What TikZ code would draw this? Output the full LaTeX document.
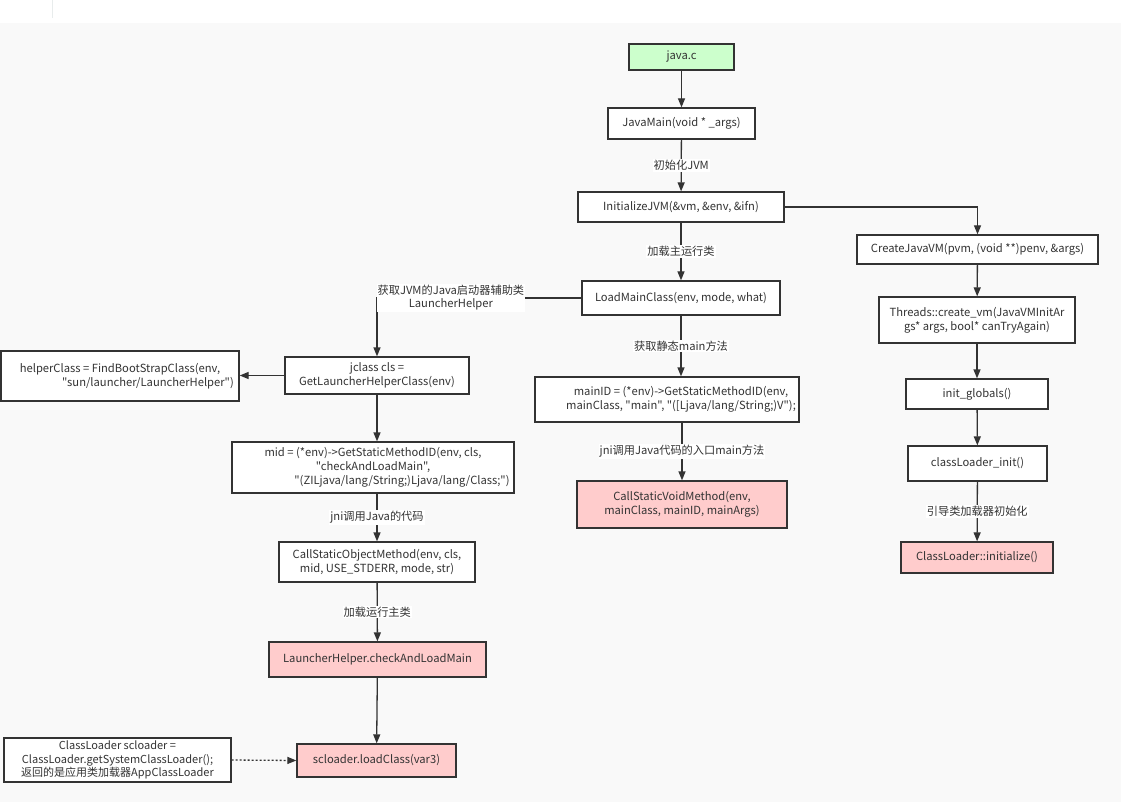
\documentclass[tikz,border=0pt]{standalone}
\usepackage{fontspec}
\newfontfamily\diagfont{Noto Sans CJK SC}
\usetikzlibrary{arrows.meta}
\definecolor{bg}{HTML}{F9F9F9}
\definecolor{ln}{HTML}{333333}
\definecolor{gfill}{HTML}{CCFFCC}
\definecolor{rfill}{HTML}{FFCCCC}
\definecolor{txt}{HTML}{333333}
\definecolor{faint}{HTML}{E8ECEC}
\begin{document}
\begin{tikzpicture}[x=1pt,y=-1pt,
  box/.style={draw=ln, line width=1.3pt, fill=white, text=txt, align=center,
    inner sep=2pt, font=\diagfont\fontsize{11.2}{14}\selectfont},
  gbox/.style={box, fill=gfill},
  rbox/.style={box, fill=rfill},
  arr/.style={draw=ln, line width=1.3pt, -{Triangle[length=9pt,width=7pt]}},
  lbl/.style={fill=white, text=txt, inner sep=1pt, align=center,
    font=\diagfont\fontsize{11.2}{13}\selectfont}]
\useasboundingbox (0,0) rectangle (1121,802);
\fill[white] (0,0) rectangle (1121,23);
\fill[bg] (0,23) rectangle (1121,802);
\draw[faint, line width=0.8pt] (52,0) -- (52,18);

% centre column
\node[gbox, minimum width=105pt, minimum height=26pt] (javac) at (681.5,57) {java.c};
\node[box, minimum width=147pt, minimum height=31pt] (javamain) at (681.5,123.5) {JavaMain(void * \_args)};
\node[box, minimum width=206pt, minimum height=30pt] (initjvm) at (681,207) {InitializeJVM(\&vm, \&env, \&ifn)};
\node[box, minimum width=198pt, minimum height=34pt] (loadmain) at (681,298) {LoadMainClass(env, mode, what)};
\node[box, minimum width=264pt, minimum height=45pt] (mainid) at (667,399.5) {\hspace*{28pt}mainID = (*env)->GetStaticMethodID(env,\\\hspace*{28pt}mainClass, "main", "([Ljava/lang/String;)V");};
\node[rbox, minimum width=210pt, minimum height=47pt] (callvoid) at (682,504.5) {CallStaticVoidMethod(env,\\mainClass, mainID, mainArgs)};

% right column
\node[box, minimum width=241pt, minimum height=29pt] (createvm) at (977.5,249.5) {CreateJavaVM(pvm, (void **)penv, \&args)};
\node[box, minimum width=196pt, minimum height=46pt] (threads) at (977,320) {Threads::create\_vm(JavaVMInitAr\\gs* args, bool* canTryAgain)};
\node[box, minimum width=142pt, minimum height=30pt] (initglobals) at (977,394) {init\_globals()};
\node[box, minimum width=139pt, minimum height=35pt] (clinit) at (977.5,463.5) {classLoader\_init()};
\node[rbox, minimum width=152pt, minimum height=31pt] (clinitialize) at (977,557.5) {ClassLoader::initialize()};

% left column
\node[box, minimum width=184pt, minimum height=37pt] (jclass) at (377,375.5) {jclass cls =\\GetLauncherHelperClass(env)};
\node[box, minimum width=238pt, minimum height=50pt] (helper) at (120,376) {helperClass = FindBootStrapClass(env,\\\hspace*{56pt}"sun/launcher/LauncherHelper")};
\node[box, minimum width=282pt, minimum height=51pt] (mid) at (373,467.5) {mid = (*env)->GetStaticMethodID(env, cls,\\"checkAndLoadMain",\\\hspace*{58pt}"(ZILjava/lang/String;)Ljava/lang/Class;")};
\node[box, minimum width=196pt, minimum height=40pt] (callobj) at (377,562) {CallStaticObjectMethod(env, cls,\\mid, USE\_STDERR, mode, str)};
\node[rbox, minimum width=217pt, minimum height=35pt] (lhcheck) at (377.5,659.5) {LauncherHelper.checkAndLoadMain};
\node[rbox, minimum width=159pt, minimum height=33pt] (scloader) at (376.5,760.5) {scloader.loadClass(var3)};
\node[box, minimum width=227pt, minimum height=44pt, font=\diagfont\fontsize{11}{13.5}\selectfont] (clscloader) at (117.5,760) {ClassLoader scloader =\\ClassLoader.getSystemClassLoader();\\返回的是应用类加载器AppClassLoader};

% connectors
\draw[arr] (javac) -- (javamain);
\draw[arr] (javamain) -- node[lbl]{初始化JVM} (initjvm);
\draw[arr] (initjvm) -- node[lbl]{加载主运行类} (loadmain);
\draw[arr] (initjvm.east) -| (createvm.north);
\draw[arr] (createvm) -- (threads);
\draw[arr] (threads) -- (initglobals);
\draw[arr] (initglobals) -- (clinit);
\draw[arr] (clinit) -- node[lbl]{引导类加载器初始化} (clinitialize);
\draw[arr] (loadmain.south) -- node[lbl]{获取静态main方法} (loadmain.south |- mainid.north);
\draw[arr] (callvoid.north |- mainid.south) -- node[lbl]{jni调用Java代码的入口main方法} (callvoid.north);
\draw[arr] (loadmain.west) -| node[lbl, pos=0.5, anchor=west, xshift=-1pt]{获取JVM的Java启动器辅助类\\LauncherHelper} (jclass.north);
\draw[arr] (jclass.west) -- (jclass.west -| helper.east);
\draw[arr] (jclass.south) -- (jclass.south |- mid.north);
\draw[arr] (callobj.north |- mid.south) -- node[lbl]{jni调用Java的代码} (callobj.north);
\draw[arr] (callobj) -- node[lbl]{加载运行主类} (lhcheck);
\draw[arr] (lhcheck) -- (scloader);
\draw[arr, dash pattern=on 2pt off 2pt] (clscloader.east) -- (scloader.west);
\end{tikzpicture}
\end{document}
